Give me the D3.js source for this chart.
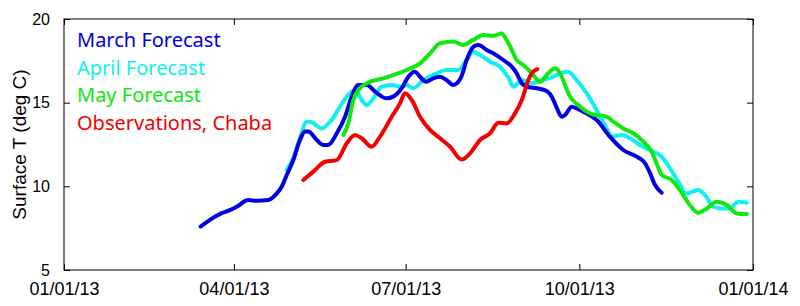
<!DOCTYPE html>
<html>
<head>
<meta charset="utf-8">
<script src="https://cdn.jsdelivr.net/npm/d3@7"></script>
<style>
  body { margin: 0; background: #fff; }
  .tick text { font-family: "Liberation Sans", Arial, sans-serif; fill: #000; }
</style>
</head>
<body>
<div id="chart"></div>
<script>
// day of year (from 01/01/13), temperature in deg C
var marchForecast = [
  [72.4,7.6],[77.3,8.0],[83.5,8.4],[87.9,8.58],[91.5,8.78],[97.6,9.18],[102.1,9.14],[108.2,9.18],
  [112.7,9.58],[115.3,9.98],[118.0,10.68],[121.5,11.57],[125.0,12.77],[127.7,13.27],[129.4,13.27],
  [133.9,12.77],[137.4,12.47],[140.0,12.47],[144.5,13.17],[148.9,14.16],[152.4,15.36],[155.9,16.06],
  [160.4,16.06],[164.8,15.66],[170.9,15.26],[174.4,15.36],[178.9,15.86],[182.4,16.55],[185.9,16.85],
  [188.6,16.55],[191.8,16.25],[195.6,16.45],[199.2,16.55],[202.7,16.35],[206.2,16.06],[208.5,16.2],
  [210.5,16.55],[213.3,17.55],[216.8,18.34],[219.5,18.45],[223.9,18.15],[227.4,17.95],[232.7,17.55],
  [237.2,17.15],[239.8,16.76],[242.5,16.16],[245.1,15.96],[250.4,15.86],[255.7,15.7],[258.4,15.36],
  [261.0,14.7],[263.7,14.16],[265.4,14.26],[269.0,14.76],[273.4,14.56],[275.1,14.46],[282.2,13.96],
  [289.2,12.97],[296.3,12.17],[303.4,11.77],[307.8,11.38],[310.5,10.78],[313.1,10.08],[316.6,9.62]
];
var aprilForecast = [
  [118.0,10.98],[121.5,11.7],[125.0,12.9],[128.6,13.86],[130.3,13.86],[134.7,13.56],[136.5,13.46],
  [141.8,13.96],[146.2,14.76],[150.6,15.46],[154.2,15.76],[157.7,15.16],[160.4,14.86],[163.9,15.26],
  [168.3,15.96],[173.6,16.06],[178.0,15.96],[181.5,16.06],[185.0,15.86],[190.3,16.35],[195.6,16.65],
  [202.7,16.95],[208.9,16.95],[213.3,17.55],[216.8,18.05],[220.4,17.85],[225.7,17.45],[231.0,17.15],
  [235.4,16.5],[238.0,15.96],[242.5,16.35],[247.8,16.16],[253.1,16.35],[259.2,16.55],[262.8,16.76],
  [267.1,16.85],[271.6,16.35],[276.9,15.56],[282.2,14.56],[287.5,13.46],[290.1,12.97],[295.4,13.07],
  [299.8,12.87],[305.1,12.47],[310.4,12.17],[316.6,11.77],[321.0,11.08],[325.4,10.28],[329.9,9.58],
  [336.0,9.78],[339.6,9.48],[344.0,8.78],[348.4,8.68],[352.8,8.68],[357.2,9.08],[361.7,9.02]
];
var mayForecast = [
  [148.0,13.07],[150.6,13.76],[153.3,15.16],[156.8,15.86],[160.4,16.16],[164.8,16.35],[169.1,16.45],
  [174.4,16.65],[181.5,16.95],[188.6,17.35],[193.9,17.95],[199.2,18.55],[206.2,18.65],[211.5,18.45],
  [216.8,18.75],[222.1,19.04],[227.4,19.0],[231.9,19.14],[234.5,18.75],[237.2,18.15],[239.8,17.55],
  [243.3,17.25],[247.8,16.76],[252.2,16.25],[255.7,16.65],[260.1,17.05],[262.8,16.76],[265.4,16.06],
  [268.1,15.36],[272.4,14.86],[278.6,14.36],[281.3,14.26],[287.5,14.16],[291.0,13.86],[296.3,13.46],
  [301.6,13.17],[306.9,12.67],[311.3,12.07],[313.9,11.38],[316.6,10.68],[321.9,10.38],[326.3,9.78],
  [331.6,8.88],[336.0,8.42],[340.5,8.68],[345.8,9.08],[351.1,8.88],[356.4,8.38],[361.7,8.34]
];
var observations = [
  [126.8,10.38],[132.1,10.88],[138.3,11.47],[144.5,11.57],[149.8,12.57],[154.2,13.07],[157.7,12.87],
  [163.0,12.37],[167.4,12.97],[173.6,14.16],[178.0,14.96],[180.6,15.56],[184.2,15.16],[188.6,14.16],
  [193.9,13.37],[199.2,12.87],[204.5,12.37],[210.7,11.6],[215.1,11.97],[220.4,12.77],[225.7,13.17],
  [230.1,13.8],[234.5,13.76],[238.9,14.36],[242.5,15.16],[246.0,16.35],[247.8,16.76],[250.7,17.0]
];

var seriesNames = ["March Forecast", "April Forecast", "May Forecast", "Observations, Chaba"];
var seriesColors = ["#0000e0", "#10f0f0", "#10e810", "#f40000"];
var xTickDates = ["2013-01-01", "2013-04-01", "2013-07-01", "2013-10-01", "2014-01-01"];
var yTicks = [5, 10, 15, 20];

var width = 800, height = 306;
var margin = {top: 19, right: 47, bottom: 36, left: 64};
var iw = width - margin.left - margin.right,
    ih = height - margin.top - margin.bottom;

var start = Date.UTC(2013, 0, 1);
var toDate = function(day) { return new Date(start + day * 864e5); };
var parse = d3.utcParse("%Y-%m-%d");
var fmt = d3.utcFormat("%m/%d/%y");

var x = d3.scaleUtc().domain([parse("2013-01-01"), parse("2014-01-01")]).range([0, iw]);
var y = d3.scaleLinear().domain([5, 20]).range([ih, 0]);

var svg = d3.select("#chart").append("svg")
    .attr("width", width).attr("height", height);
var g = svg.append("g").attr("transform", "translate(" + margin.left + "," + margin.top + ")");

var tickDates = xTickDates.map(parse);

// axes: inward ticks, mirrored on top/right
g.append("g").attr("transform", "translate(0," + ih + ")")
  .call(d3.axisBottom(x).tickValues(tickDates).tickFormat(fmt).tickSizeInner(-6).tickSizeOuter(0).tickPadding(12))
  .call(a => a.selectAll("text").style("font-size", "18px"));
g.append("g")
  .call(d3.axisTop(x).tickValues(tickDates).tickFormat("").tickSizeInner(-6).tickSizeOuter(0));
g.append("g")
  .call(d3.axisLeft(y).tickValues(yTicks).tickSizeInner(-6).tickSizeOuter(0).tickPadding(14))
  .call(a => a.selectAll("text").style("font-size", "16px"));
g.append("g").attr("transform", "translate(" + iw + ",0)")
  .call(d3.axisRight(y).tickValues(yTicks).tickFormat("").tickSizeInner(-6).tickSizeOuter(0));
g.selectAll(".domain").remove();
g.selectAll(".tick line").attr("stroke", "#000");

g.append("rect").attr("width", iw).attr("height", ih)
  .attr("fill", "none").attr("stroke", "#000").attr("stroke-width", 1);

var line = d3.line()
  .x(d => x(toDate(d[0])))
  .y(d => y(d[1]))
  .curve(d3.curveMonotoneX);

// drawing order as in the picture: April, March, May, observations
var data = [marchForecast, aprilForecast, mayForecast, observations];
[1, 0, 2, 3].forEach(function(i) {
  g.append("path")
    .datum(data[i])
    .attr("fill", "none")
    .attr("stroke", seriesColors[i])
    .attr("stroke-width", 4)
    .attr("stroke-linejoin", "round")
    .attr("stroke-linecap", "round")
    .attr("d", line);
});

// legend
svg.append("g").selectAll("text")
  .data(seriesNames)
  .enter().append("text")
  .attr("x", 77)
  .attr("y", (d, i) => 47 + i * 27.7)
  .attr("fill", (d, i) => seriesColors[i])
  .style("font-family", "'Noto Sans', sans-serif")
  .style("font-size", "20px")
  .text(d => d);

svg.append("text")
  .attr("transform", "translate(26," + (margin.top + ih / 2) + ") rotate(-90)")
  .attr("text-anchor", "middle")
  .style("font-family", "'Liberation Sans', Arial, sans-serif")
  .style("font-size", "19px")
  .text("Surface T (deg C)");
</script>
</body>
</html>
